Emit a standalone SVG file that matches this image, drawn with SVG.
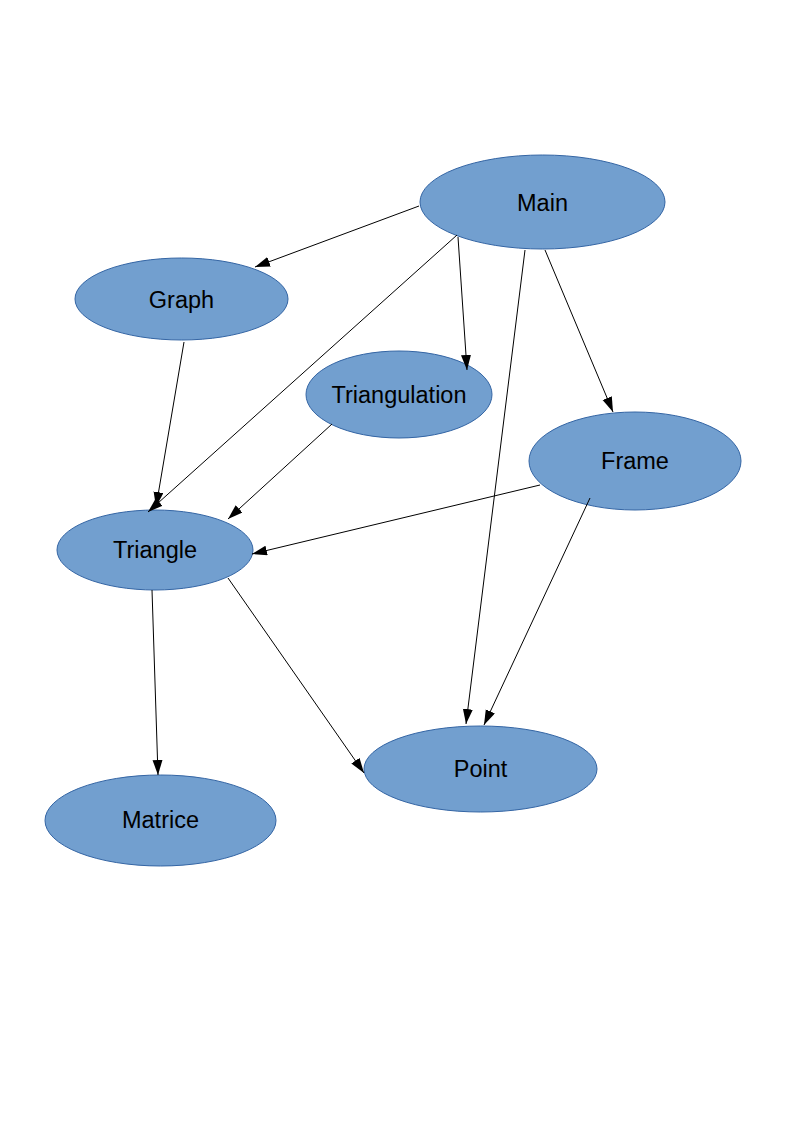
<svg xmlns="http://www.w3.org/2000/svg" width="794" height="1123" viewBox="0 0 794 1123">
<style>
.node ellipse{fill:#729fcf;stroke:#3465a4;stroke-width:1}
.node text{font-family:"Liberation Sans",Arial,sans-serif;font-size:23.5px;fill:#000;text-anchor:middle;dominant-baseline:central}
.edges line{stroke:#000;stroke-width:1;marker-end:url(#ah)}
</style>
<defs>
<marker id="ah" markerUnits="userSpaceOnUse" markerWidth="16" markerHeight="11" refX="15" refY="5" orient="auto">
<path d="M0,0 L15,5 L0,10 z" fill="#000"/>
</marker>
</defs>
<rect width="794" height="1123" fill="#fff"/>
<g id="main" class="node"><ellipse cx="542.5" cy="202" rx="122.5" ry="47"/><text x="542.5" y="203">Main</text></g>
<g id="graph" class="node"><ellipse cx="181.5" cy="299" rx="106.5" ry="41"/><text x="181.5" y="300">Graph</text></g>
<g id="triangulation" class="node"><ellipse cx="399" cy="394.5" rx="93" ry="43.5"/><text x="399" y="395">Triangulation</text></g>
<g id="frame" class="node"><ellipse cx="635" cy="461" rx="106" ry="49"/><text x="635" y="461">Frame</text></g>
<g id="triangle" class="node"><ellipse cx="155" cy="550" rx="98" ry="40"/><text x="155" y="550">Triangle</text></g>
<g id="point" class="node"><ellipse cx="480.5" cy="769" rx="116.5" ry="43"/><text x="480.5" y="769">Point</text></g>
<g id="matrice" class="node"><ellipse cx="160.5" cy="820.5" rx="115.5" ry="45.5"/><text x="160.5" y="820">Matrice</text></g>
<g id="connectors" class="edges">
<line x1="419" y1="206" x2="255" y2="267"/>
<line x1="457" y1="235" x2="148" y2="512"/>
<line x1="458" y1="237" x2="467" y2="370"/>
<line x1="525" y1="250" x2="466" y2="724"/>
<line x1="545" y1="250" x2="613" y2="412"/>
<line x1="184" y1="342" x2="156" y2="507"/>
<line x1="332" y1="424" x2="228" y2="519"/>
<line x1="540" y1="485" x2="252" y2="554"/>
<line x1="590" y1="498" x2="484" y2="725"/>
<line x1="152" y1="590" x2="158" y2="775"/>
<line x1="228" y1="578" x2="364" y2="773"/>
</g>
</svg>
